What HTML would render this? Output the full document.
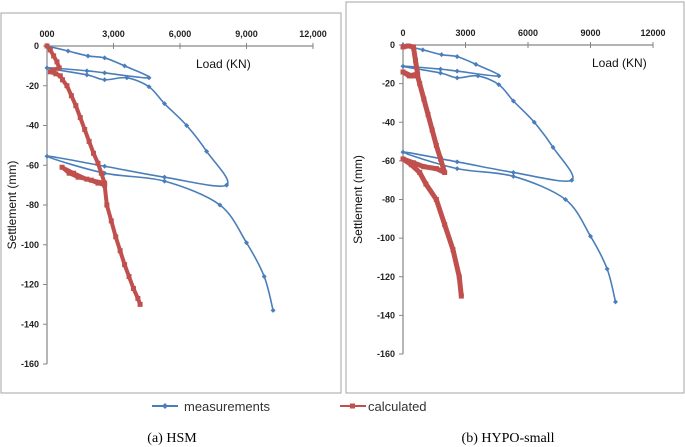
<!DOCTYPE html>
<html><head><meta charset="utf-8"><style>
body{margin:0;background:#fff;}
svg{display:block;font-family:"Liberation Sans",sans-serif;}
</style></head><body>
<svg id="s" width="685" height="447" viewBox="0 0 685 447" xmlns="http://www.w3.org/2000/svg">
<rect x="1" y="13" width="340" height="380" fill="#fff" stroke="#a6a6a6" stroke-width="1"/>
<rect x="346" y="2" width="338" height="391" fill="#fff" stroke="#a6a6a6" stroke-width="1"/>
<g>
<line x1="152" y1="406" x2="178" y2="406" stroke="#4a7ebb" stroke-width="2"/>
<path d="M165 403 L168 406 L165 409 L162 406Z" fill="#4a7ebb"/>
<text x="184" y="411" font-size="13" fill="#333">measurements</text>
<line x1="340" y1="406" x2="366" y2="406" stroke="#c0504d" stroke-width="2"/>
<rect x="350" y="403.5" width="5" height="5" fill="#c0504d"/>
<text x="368" y="411" font-size="13" fill="#333">calculated</text>
</g>
<text x="172" y="442" font-size="14" font-family="Liberation Serif,serif" text-anchor="middle">(a) HSM</text>
<text x="508" y="442" font-size="14" font-family="Liberation Serif,serif" text-anchor="middle">(b) HYPO-small</text>
<g id="ga"></g><g id="gb"></g>
</svg>
<script>
const NS="http://www.w3.org/2000/svg";
const xTicks=[0,3000,6000,9000,12000];
const xTickLabelsA=["000","3,000","6,000","9,000","12,000"];
const xTickLabelsB=["0","3000","6000","9000","12000"];
const yTicks=[0,-20,-40,-60,-80,-100,-120,-140,-160];
const measLoad=[0,950,1850,2600,3500,4600,2600,1800,0,1800,2600,3600,4600,5300,6300,7200,8100,5300,2600,0,2600,5300,7800,9000,9800,10200];
const measSettle=[0,-2.5,-5,-6,-10,-16,-13.5,-12.5,-11,-14.5,-17,-16,-20.5,-29,-40,-53,-70,-66,-60.5,-55.5,-64,-68,-80,-99,-116,-133];
const calcLoadA=[0,150,300,450,550,300,150,400,600,700,900,1100,1300,1500,1700,1900,2100,2300,2450,2600,2000,1400,1000,680,1200,1800,2300,2600,2700,2900,3100,3300,3500,3700,3900,4100,4200];
const calcSettleA=[0,-2,-5,-8,-11,-12,-13,-14,-15,-17,-20,-25,-30,-36,-42,-48,-54,-59,-64,-69,-67.5,-66,-64,-61,-64,-67,-69,-70,-80,-88,-96,-103,-110,-116,-122,-127,-130];
const calcLoadB=[0,250,500,600,700,300,0,400,700,800,1000,1200,1400,1600,1800,2000,1600,1000,500,0,400,800,1100,1600,2000,2400,2700,2800];
const calcSettleB=[-1,-0.5,-1,-8,-15,-16,-14,-16,-16,-20,-28,-36,-44,-52,-59,-66,-64,-63,-61,-59,-62,-66,-72,-80,-93,-106,-120,-130];
function mk(tag,attrs,parent){const e=document.createElementNS(NS,tag);for(const k in attrs)e.setAttribute(k,attrs[k]);parent.appendChild(e);return e;}
function smooth(p){let d=`M${p[0][0]} ${p[0][1]}`;for(let i=0;i<p.length-1;i++){const a=p[Math.max(0,i-1)],b=p[i],c=p[i+1],e=p[Math.min(p.length-1,i+2)];const t=0.16;d+=`C${b[0]+(c[0]-a[0])*t} ${b[1]+(c[1]-a[1])*t} ${c[0]-(e[0]-b[0])*t} ${c[1]-(e[1]-b[1])*t} ${c[0]} ${c[1]}`;}return d;}
function chart(g,cfg){
 const X=v=>cfg.x0+(v/12000)*(cfg.x1-cfg.x0);
 const Y=v=>cfg.y0+(-v/160)*(cfg.y1-cfg.y0);
 const ax=mk('line',{x1:X(0),y1:Y(0),x2:X(12000),y2:Y(0),stroke:'#868686','stroke-width':1.2},g);
 
 
 const ay=mk('line',{x1:X(0),y1:Y(0),x2:X(0),y2:Y(-160),stroke:'#868686','stroke-width':1.2},g);
 
 
 xTicks.forEach((t,i)=>{
  mk('line',{x1:X(t),y1:Y(0)-3,x2:X(t),y2:Y(0)+3,stroke:'#868686'},g);
  const tx=mk('text',{x:X(t),y:Y(0)-9,'font-size':9,'font-weight':'bold','text-anchor':'middle',fill:'#222'},g);
  tx.textContent=cfg.xl[i];
  
  
 });
 yTicks.forEach(t=>{
  mk('line',{x1:X(0)-4,y1:Y(t),x2:X(0),y2:Y(t),stroke:'#868686'},g);
  const ty=mk('text',{x:X(0)-8,y:Y(t)+3,'font-size':9,'font-weight':'bold','text-anchor':'end',fill:'#222'},g);
  ty.textContent=String(t);
  
  
 });
 const xt=mk('text',{x:cfg.xtx,y:Y(0)+22,'font-size':12,fill:'#111'},g);
 xt.textContent='Load (KN)';
 
 
 const yt=mk('text',{x:0,y:0,'font-size':12,fill:'#111','text-anchor':'middle',transform:`translate(${cfg.ytx},${(Y(0)+Y(-160))/2}) rotate(-90)`},g);
 yt.textContent='Settlement (mm)';
 
 
 const mp=mk('path',{d:smooth(measLoad.map((v,i)=>[X(v),Y(measSettle[i])])),fill:'none',stroke:'#4a7ebb','stroke-width':1.6,'stroke-linejoin':'round'},g);
 
 
 measLoad.forEach((v,i)=>{const x=X(v),y=Y(measSettle[i]);
  const d=mk('path',{d:`M${x} ${y-2.5}L${x+2.5} ${y}L${x} ${y+2.5}L${x-2.5} ${y}Z`,fill:'#4a7ebb'},g);
  
  });
 const cp=mk('polyline',{points:cfg.cl.map((v,i)=>X(v)+','+Y(cfg.cs[i])).join(' '),fill:'none',stroke:'#c0504d','stroke-width':cfg.cw,'stroke-linejoin':'round'},g);
 
 
 cfg.cl.forEach((v,i)=>{const r=mk('rect',{x:X(v)-2.5,y:Y(cfg.cs[i])-2.5,width:5,height:5,fill:'#c0504d'},g);
  
  });
}
chart(document.getElementById('ga'),{x0:47,x1:313,y0:46,y1:364,xl:xTickLabelsA,xtx:196,ytx:16,cl:calcLoadA,cs:calcSettleA,cw:4});
chart(document.getElementById('gb'),{x0:403,x1:653,y0:45,y1:354,xl:xTickLabelsB,xtx:592,ytx:362,cl:calcLoadB,cs:calcSettleB,cw:5});
</script>
</body></html>
